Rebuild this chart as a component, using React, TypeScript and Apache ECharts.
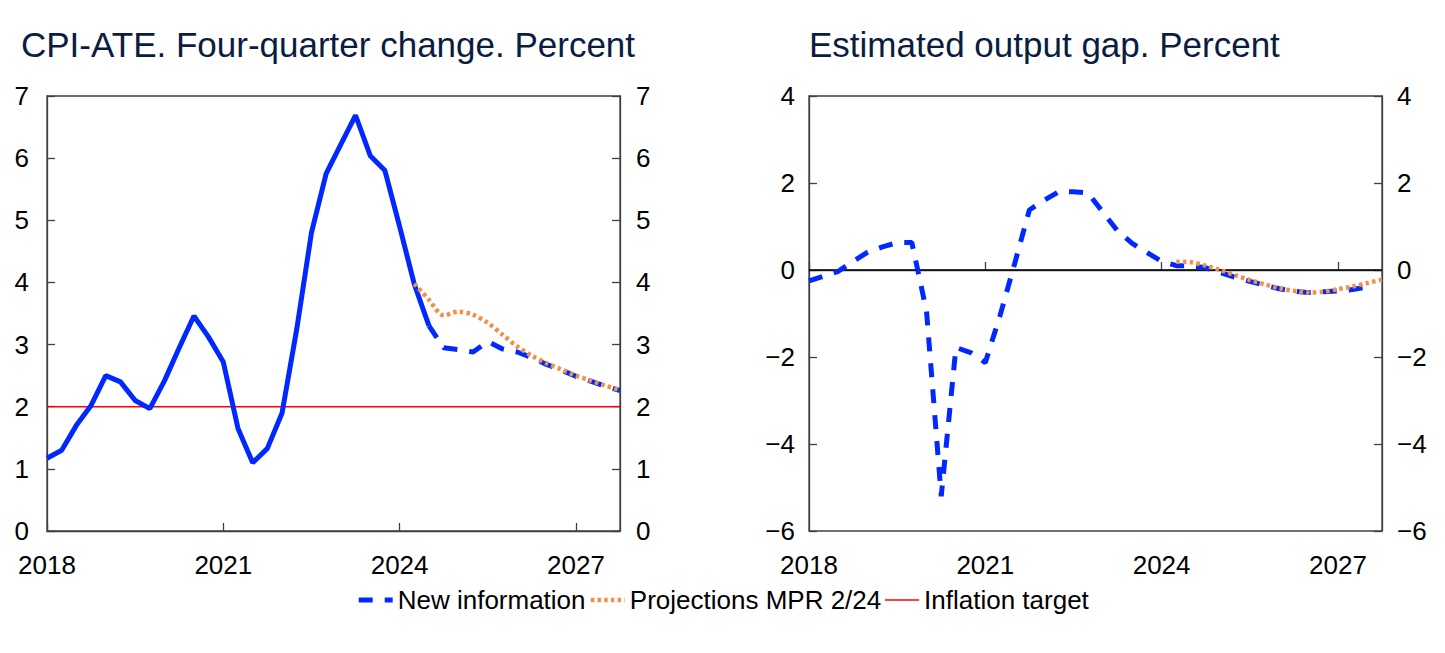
import React, { useEffect, useRef } from "react";
import * as echarts from "echarts";

// ---- Data ----
const years = [2018, 2019, 2020, 2021, 2022, 2023, 2024, 2025, 2026, 2027];
const quarterNames = ["Q1", "Q2", "Q3", "Q4"];
const quarters: string[] = [];
years.forEach((y) => quarterNames.forEach((q) => quarters.push(`${y}${q}`)));
const yearTickLabels = ["2018", "2021", "2024", "2027"];

// CPI-ATE, actual (2018Q1 - 2024Q3)
const cpiActual = [
  1.17, 1.3, 1.7, 2.02, 2.5, 2.4, 2.1, 1.97, 2.42, 2.95, 3.46, 3.12, 2.72, 1.65,
  1.1, 1.33, 1.9, 3.25, 4.8, 5.75, 6.22, 6.69, 6.04, 5.8, 4.9, 3.97, 3.3,
];
// CPI-ATE, new information (2024Q3 - 2027Q4)
const cpiNewInfoStart = "2024Q3";
const cpiNewInfo = [3.3, 2.95, 2.92, 2.88, 3.05, 2.93, 2.88, 2.79, 2.68, 2.59, 2.49, 2.41, 2.33, 2.26];
// CPI-ATE, projections MPR 2/24 (2024Q2 - 2027Q4)
const cpiProjStart = "2024Q2";
const cpiProjection = [3.98, 3.72, 3.47, 3.53, 3.48, 3.35, 3.16, 2.97, 2.82, 2.7, 2.6, 2.5, 2.42, 2.34, 2.27];
const inflationTarget = 2;

// Output gap, new information (2018Q1 - 2027Q3)
const gapNewInfo = [
  -0.25, -0.14, -0.03, 0.2, 0.41, 0.53, 0.63, 0.63, -0.95, -5.2, -1.78, -1.9, -2.13, -1.05, 0.15, 1.38,
  1.6, 1.8, 1.8, 1.77, 1.33, 0.9, 0.61, 0.4, 0.2, 0.1, 0.1, 0.05, -0.06, -0.17, -0.26, -0.35, -0.43,
  -0.49, -0.52, -0.5, -0.48, -0.45, -0.39,
];
// Output gap, projections MPR 2/24 (2024Q2 - 2027Q4)
const gapProjStart = "2024Q2";
const gapProjection = [0.19, 0.18, 0.1, 0.0, -0.12, -0.23, -0.33, -0.42, -0.48, -0.52, -0.5, -0.44, -0.38, -0.3, -0.22];
const zeroLine = 0;

const cpiAxis = { min: 0, max: 7, interval: 1 };
const gapAxis = { min: -6, max: 4, interval: 2 };

// ---- Styling ----
const FONT = "'Liberation Sans', Arial, sans-serif";
const BLUE = "#0028ff";
const ORANGE = "#f0914a";
const RED = "#ff0000";
const AXIS = "#404040";
const TITLE = "#0b1d3f";

function pad(start: string, values: number[]) {
  const idx = quarters.indexOf(start);
  return [...new Array(idx).fill(null), ...values];
}

const isYearTick = (i: number) => yearTickLabels.includes(quarters[i].slice(0, 4)) && quarters[i].endsWith("Q1");

function xAxis(gridIndex: number) {
  return {
    type: "category",
    gridIndex,
    data: quarters,
    boundaryGap: false,
    axisLine: { show: true, lineStyle: { color: AXIS, width: 1.3 } },
    axisTick: { show: true, inside: true, length: 8, interval: (i: number) => isYearTick(i), lineStyle: { color: AXIS, width: 1.3 } },
    axisLabel: {
      interval: (i: number) => isYearTick(i),
      formatter: (v: string) => v.slice(0, 4),
      fontSize: 26,
      color: "#000",
      fontFamily: FONT,
      margin: 21,
    },
    splitLine: { show: false },
  };
}

function yAxis(gridIndex: number, position: string, ax: { min: number; max: number; interval: number }, margin: number) {
  return {
    type: "value",
    gridIndex,
    position,
    min: ax.min,
    max: ax.max,
    interval: ax.interval,
    axisLine: { show: true, lineStyle: { color: AXIS, width: 1.3 } },
    axisTick: { show: true, inside: true, length: 8, lineStyle: { color: AXIS, width: 1.3 } },
    axisLabel: {
      fontSize: 26,
      color: "#000",
      fontFamily: FONT,
      margin,
      formatter: (v: number) => String(v).replace("-", "\u2212"),
    },
    splitLine: { show: false },
  };
}

const lineBase = { type: "line", symbol: "none", showSymbol: false, connectNulls: false, silent: true };

export default function App() {
  const ref = useRef<HTMLDivElement>(null);
  useEffect(() => {
    if (!ref.current) return;
    const chart = echarts.init(ref.current, undefined, { renderer: "svg" });
    chart.setOption({
      animation: false,
      backgroundColor: "#ffffff",
      title: [
        {
          text: "CPI-ATE. Four-quarter change. Percent",
          left: 21,
          top: 27,
          padding: 0,
          textStyle: { fontSize: 35, fontWeight: "normal", color: TITLE, fontFamily: FONT },
        },
        {
          text: "Estimated output gap. Percent",
          left: 809,
          top: 27,
          padding: 0,
          textStyle: { fontSize: 35, fontWeight: "normal", color: TITLE, fontFamily: FONT },
        },
      ],
      legend: {
        data: ["New information", "Projections MPR 2/24", "Inflation target"],
        left: "center",
        top: 587,
        itemGap: 3,
        itemWidth: 34,
        itemHeight: 14,
        itemStyle: { opacity: 0 },
        lineStyle: { width: "inherit" },
        textStyle: { fontSize: 26, color: "#000", fontFamily: FONT },
        padding: 0,
      },
      grid: [
        { left: 47, top: 96, width: 573, height: 435, show: true, borderColor: AXIS, borderWidth: 1.3, containLabel: false },
        { left: 809, top: 96, width: 573, height: 435, show: true, borderColor: AXIS, borderWidth: 1.3, containLabel: false },
      ],
      xAxis: [xAxis(0), xAxis(1)],
      yAxis: [
        yAxis(0, "left", cpiAxis, 18),
        yAxis(0, "right", cpiAxis, 16),
        yAxis(1, "left", gapAxis, 14),
        yAxis(1, "right", gapAxis, 15),
      ],
      series: [
        {
          ...lineBase,
          name: "Inflation target",
          xAxisIndex: 0,
          yAxisIndex: 0,
          data: quarters.map(() => inflationTarget),
          lineStyle: { color: RED, width: 1.6 },
          itemStyle: { color: RED },
        },
        {
          ...lineBase,
          name: "CPI-ATE",
          xAxisIndex: 0,
          yAxisIndex: 0,
          data: cpiActual,
          lineStyle: { color: BLUE, width: 5 },
          itemStyle: { color: BLUE },
        },
        {
          ...lineBase,
          name: "New information",
          xAxisIndex: 0,
          yAxisIndex: 0,
          data: pad(cpiNewInfoStart, cpiNewInfo),
          lineStyle: { color: BLUE, width: 5, type: [14, 12] },
          itemStyle: { color: BLUE },
        },
        {
          ...lineBase,
          name: "Projections MPR 2/24",
          xAxisIndex: 0,
          yAxisIndex: 0,
          smooth: 0.3,
          data: pad(cpiProjStart, cpiProjection),
          lineStyle: { color: ORANGE, width: 4.5, type: [3.5, 3.2] },
          itemStyle: { color: ORANGE },
        },
        {
          ...lineBase,
          name: "zero",
          xAxisIndex: 1,
          yAxisIndex: 2,
          data: quarters.map(() => zeroLine),
          lineStyle: { color: "#000", width: 1.6 },
          itemStyle: { color: "#000" },
        },
        {
          ...lineBase,
          name: "New information",
          xAxisIndex: 1,
          yAxisIndex: 2,
          data: gapNewInfo,
          lineStyle: { color: BLUE, width: 5, type: [14, 12] },
          itemStyle: { color: BLUE },
        },
        {
          ...lineBase,
          name: "Projections MPR 2/24",
          xAxisIndex: 1,
          yAxisIndex: 2,
          smooth: 0.3,
          data: pad(gapProjStart, gapProjection),
          lineStyle: { color: ORANGE, width: 4.5, type: [3.5, 3.2] },
          itemStyle: { color: ORANGE },
        },
      ],
    });
    return () => chart.dispose();
  }, []);
  return <div ref={ref} style={{ position: "fixed", left: 0, top: 0, width: 1445, height: 653 }} />;
}
